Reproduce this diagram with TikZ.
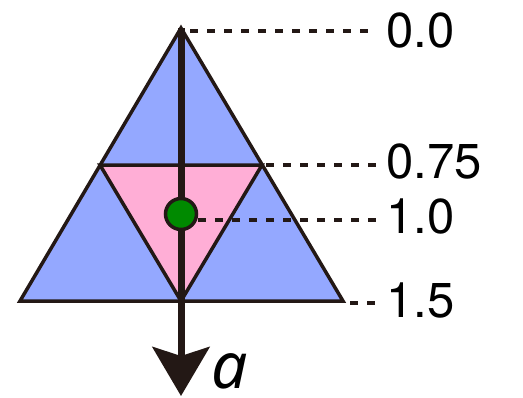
\documentclass[tikz,border=0pt]{standalone}
\usepackage{fontspec}
\setmainfont{TeX Gyre Heros}
\newfontfamily\alabelfont{Noto Sans}
\usetikzlibrary{arrows.meta}
\definecolor{triblue}{RGB}{148,168,255}
\definecolor{tripink}{RGB}{255,174,214}
\definecolor{dotgreen}{RGB}{0,138,0}
\definecolor{inkdark}{RGB}{35,24,21}
\tikzset{
  tri/.style={draw=inkdark, line width=3.5pt, line join=miter},
  dashline/.style={draw=inkdark, line width=3.2pt, dash pattern=on 8pt off 9pt},
  valuelabel/.style={inner sep=0pt, anchor=base west, font=\fontsize{49}{49}\selectfont},
  axisarrow/.style={draw=inkdark, line width=7pt, -{Stealth[length=49pt, width=57pt, inset=9pt]}},
  greendot/.style={circle, draw=inkdark, fill=dotgreen, line width=3.5pt, minimum size=31pt, inner sep=0pt}
}
\begin{document}
\begin{tikzpicture}[x=1pt, y=-1pt]
\useasboundingbox (0,0) rectangle (523,397);
% geometry
\coordinate (apex) at (181,28);
\coordinate (bl) at (20,301);
\coordinate (br) at (343,301);
\coordinate (ml) at (100,165);
\coordinate (mr) at (262,165);
\coordinate (mb) at (181,301);
\coordinate (tipend) at (181,396);
% triangles
\filldraw[tri, fill=triblue] (apex) -- (br) -- (bl) -- cycle;
\filldraw[tri, fill=tripink] (ml) -- (mr) -- (mb) -- cycle;
% arrow
\draw[axisarrow] (apex) -- (tipend);
% labels
\node[valuelabel] (l0) at (386,47) {0.0};
\node[valuelabel] (l75) at (386,178) {0.75};
\node[valuelabel] (l1) at (386,233) {1.0};
\node[valuelabel] (l15) at (386,317) {1.5};
% green dot
\node[greendot] (dot) at (181,214) {};
% dashed leaders
\coordinate (s0) at (190,31);
\coordinate (s75) at (266,165);
\coordinate (s1) at (198,220);
\coordinate (s15) at (350,303);
\draw[dashline, shorten >=10pt] (s0) -- (s0 -| l0.west);
\draw[dashline, shorten >=10pt] (s75) -- (s75 -| l75.west);
\draw[dashline, shorten >=10pt] (s1) -- (s1 -| l1.west);
\draw[dashline, shorten >=10pt] (s15) -- (s15 -| l15.west);
% axis label
\node[inner sep=0pt, anchor=base west, font=\alabelfont\itshape\fontsize{64}{64}\selectfont] (alab) at (211,388) {a};
\end{tikzpicture}
\end{document}
